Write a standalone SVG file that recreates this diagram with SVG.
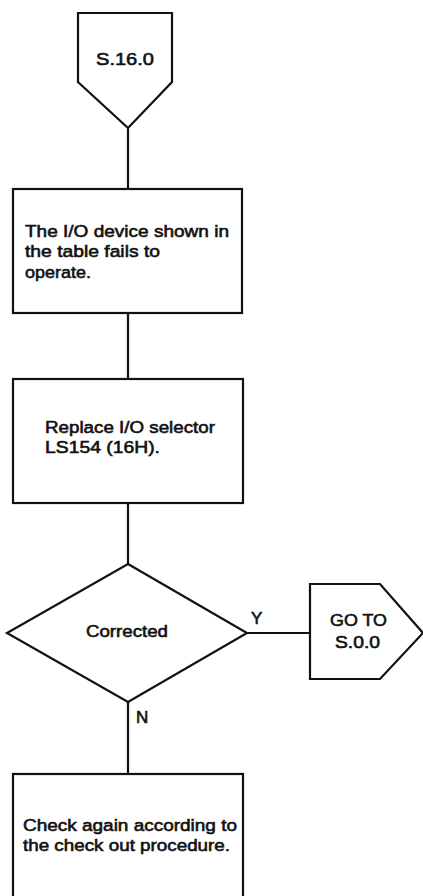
<svg xmlns="http://www.w3.org/2000/svg" width="423" height="896" viewBox="0 0 423 896">
<style>
.s{fill:#fff;stroke:#111;stroke-width:2.2;stroke-linejoin:miter}
.c{fill:none;stroke:#111;stroke-width:2.2}
text{font-family:"Liberation Sans",Arial,sans-serif;font-size:17px;fill:#111;stroke:#111;stroke-width:0.6}
</style>
<rect width="423" height="896" fill="#fff"/>
<g id="connectors">
<line class="c" x1="128" y1="128" x2="128" y2="189"/>
<line class="c" x1="128" y1="313" x2="128" y2="379"/>
<line class="c" x1="128" y1="503" x2="128" y2="564"/>
<line class="c" x1="247" y1="633" x2="310" y2="633"/>
<line class="c" x1="128" y1="702" x2="128" y2="774"/>
<text x="251" y="624">Y</text>
<text x="136" y="723">N</text>
</g>
<g id="start">
<polygon class="s" points="78,13 172,13 172,82 128,128 78,82"/>
<text x="96" y="65" textLength="58" lengthAdjust="spacingAndGlyphs">S.16.0</text>
</g>
<g id="box1">
<rect class="s" x="13" y="189" width="229" height="124"/>
<text x="25" y="237" textLength="204" lengthAdjust="spacingAndGlyphs">The I/O device shown in</text>
<text x="25" y="257" textLength="135" lengthAdjust="spacingAndGlyphs">the table fails to</text>
<text x="25" y="278" textLength="66" lengthAdjust="spacingAndGlyphs">operate.</text>
</g>
<g id="box2">
<rect class="s" x="13" y="379" width="230" height="124"/>
<text x="45" y="433" textLength="170" lengthAdjust="spacingAndGlyphs">Replace I/O selector</text>
<text x="45" y="453" textLength="115" lengthAdjust="spacingAndGlyphs">LS154 (16H).</text>
</g>
<g id="decision">
<polygon class="s" points="128,564 247,633 128,702 7,633"/>
<text x="86" y="637" textLength="82" lengthAdjust="spacingAndGlyphs">Corrected</text>
</g>
<g id="goto">
<polygon class="s" points="310,584 380,584 423,633 380,679 310,679"/>
<text x="330" y="626" textLength="57" lengthAdjust="spacingAndGlyphs">GO TO</text>
<text x="335" y="648" textLength="45" lengthAdjust="spacingAndGlyphs">S.0.0</text>
</g>
<g id="box3">
<rect class="s" x="13" y="774" width="230" height="130"/>
<text x="23" y="831" textLength="214" lengthAdjust="spacingAndGlyphs">Check again according to</text>
<text x="23" y="851" textLength="207" lengthAdjust="spacingAndGlyphs">the check out procedure.</text>
</g>
</svg>
